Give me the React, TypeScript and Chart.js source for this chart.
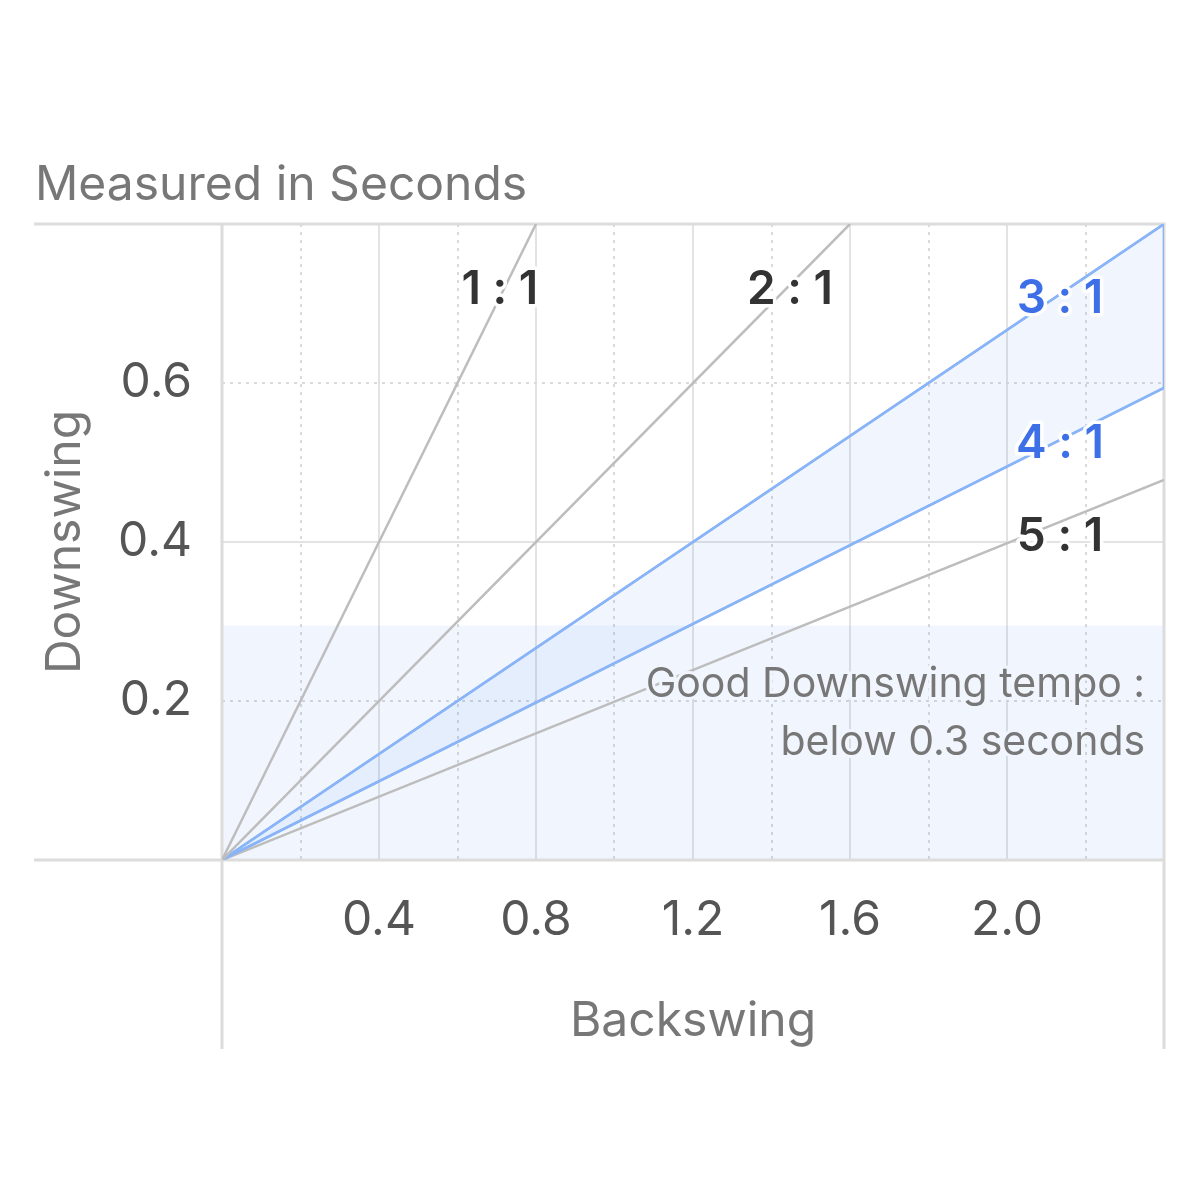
import { useEffect, useRef } from "react";
import { Chart, registerables, Plugin } from "chart.js";

// register everything chart.js has
Chart.register(...registerables);

const FONT = "Inter, 'Noto Sans', sans-serif";

// tempo ratios (backswing : downswing) and where each ratio line leaves the plot
const ratioNames = ["1 : 1", "2 : 1", "3 : 1", "4 : 1", "5 : 1"];
const backswingEnd = [0.8, 1.6, 2.4, 2.4, 2.4];
const downswingEnd = [0.8, 0.8, 0.8, 0.594, 0.478];
const highlighted = [false, false, true, true, false];

// label anchors in seconds (text centre on x, baseline on y)
const labelBackswing = [0.708, 1.447, 2.135, 2.135, 2.135];
const labelDownswing = [0.7, 0.7, 0.688, 0.506, 0.389];

// the "good downswing" band
const goodTempoLimit = 0.295;
const noteLines = ["Good Downswing tempo :", "below 0.3 seconds"];
const noteBackswing = 2.352;
const noteDownswing = [0.205, 0.132];

const xMax = 2.4;
const yMax = 0.8;

const tenths = (v: number) => Math.round(v * 10);
const isMajor = (v: number) => tenths(v) % 4 === 0;

// frame lines that run past the plot area, like a table
const framePlugin: Plugin = {
  id: "frame",
  beforeDatasetsDraw(chart) {
    const { ctx, chartArea: a } = chart;
    ctx.save();
    ctx.strokeStyle = "#dcdcdc";
    ctx.lineWidth = 3;
    ctx.beginPath();
    ctx.moveTo(34, a.top);
    ctx.lineTo(a.right + 1.5, a.top);
    ctx.moveTo(34, a.bottom);
    ctx.lineTo(a.right + 1.5, a.bottom);
    ctx.moveTo(a.left, a.top);
    ctx.lineTo(a.left, 1049);
    ctx.moveTo(a.right, a.top);
    ctx.lineTo(a.right, 1049);
    ctx.stroke();
    ctx.restore();
  },
};

// ratio labels, the band note and the top caption
const textPlugin: Plugin = {
  id: "texts",
  afterDatasetsDraw(chart) {
    const { ctx } = chart;
    const x = chart.scales.x;
    const y = chart.scales.y;
    ctx.save();
    ctx.lineJoin = "round";
    ctx.textBaseline = "alphabetic";

    ctx.font = `600 46px ${FONT}`;
    ctx.textAlign = "center";
    ratioNames.forEach((name, i) => {
      const px = x.getPixelForValue(labelBackswing[i]);
      const py = y.getPixelForValue(labelDownswing[i]);
      ctx.strokeStyle = "#ffffff";
      ctx.lineWidth = 7;
      ctx.strokeText(name, px, py);
      ctx.fillStyle = highlighted[i] ? "#3d6fe6" : "#333333";
      ctx.fillText(name, px, py);
    });

    ctx.font = `41px ${FONT}`;
    ctx.textAlign = "right";
    noteLines.forEach((line, i) => {
      const px = x.getPixelForValue(noteBackswing);
      const py = y.getPixelForValue(noteDownswing[i]);
      ctx.strokeStyle = "#f1f5fe";
      ctx.lineWidth = 6;
      ctx.strokeText(line, px, py);
      ctx.fillStyle = "#777777";
      ctx.fillText(line, px, py);
    });

    ctx.font = `48px ${FONT}`;
    ctx.textAlign = "left";
    ctx.fillStyle = "#777777";
    ctx.fillText("Measured in Seconds", 35, 200);
    ctx.restore();
  },
};

export default function App() {
  const chartRef = useRef<HTMLCanvasElement | null>(null);

  useEffect(() => {
    document.body.style.margin = "0";
    const canvas = chartRef.current;
    if (!canvas) return;

    const ratioSets = ratioNames.map((name, i) => ({
      label: name,
      data: [
        { x: 0, y: 0 },
        { x: backswingEnd[i], y: downswingEnd[i] },
      ],
      borderColor: highlighted[i] ? "#8ab4f8" : "#bdbdbd",
      borderWidth: 2.5,
      pointRadius: 0,
      fill: false,
    }));

    // zone between 3:1 and 4:1, closed at the right edge
    const zone = {
      label: "3:1 - 4:1",
      data: [
        { x: 0, y: 0 },
        { x: backswingEnd[2], y: downswingEnd[2] },
        { x: backswingEnd[3], y: downswingEnd[3] },
        { x: 0, y: 0 },
      ],
      borderColor: "#8ab4f8",
      borderWidth: 2.5,
      backgroundColor: "rgba(66,133,244,0.075)",
      pointRadius: 0,
      fill: "shape",
    };

    const band = {
      label: "good tempo",
      data: [
        { x: 0, y: goodTempoLimit },
        { x: xMax, y: goodTempoLimit },
      ],
      borderWidth: 0,
      borderColor: "rgba(0,0,0,0)",
      backgroundColor: "rgba(66,133,244,0.075)",
      pointRadius: 0,
      fill: "origin",
    };

    const chart = new Chart(canvas, {
      type: "line",
      data: { datasets: [...ratioSets, zone, band] as any },
      options: {
        animation: false,
        responsive: false,
        devicePixelRatio: 1,
        layout: { padding: { top: 224, right: 36, left: 0, bottom: 0 } },
        plugins: {
          legend: { display: false },
          tooltip: { enabled: false },
          filler: { drawTime: "beforeDatasetsDraw" },
        } as any,
        scales: {
          x: {
            type: "linear",
            min: 0,
            max: xMax,
            afterFit: (s: any) => {
              s.height = 340;
            },
            ticks: {
              stepSize: 0.2,
              autoSkip: false,
              maxRotation: 0,
              padding: 32,
              color: "#555555",
              font: { family: FONT, size: 48 },
              callback: (v: any) => {
                const t = tenths(Number(v));
                return t % 4 === 0 && t > 0 && t < 24 ? (t / 10).toFixed(1) : "";
              },
            },
            grid: {
              drawTicks: false,
              lineWidth: 2,
              color: (c: any) => (isMajor(c.tick.value) ? "#e3e3e3" : "#dadada"),
            },
            border: {
              display: false,
              dash: (c: any) => (c.tick && !isMajor(c.tick.value) ? [3, 5] : []),
            },
            title: {
              display: true,
              text: "Backswing",
              color: "#777777",
              font: { family: FONT, size: 48 },
              padding: { top: 0, bottom: 150 },
            },
          },
          y: {
            type: "linear",
            min: 0,
            max: yMax,
            afterFit: (s: any) => {
              s.width = 222;
            },
            ticks: {
              stepSize: 0.2,
              autoSkip: false,
              padding: 30,
              color: "#555555",
              font: { family: FONT, size: 48 },
              callback: (v: any) => {
                const t = tenths(Number(v));
                return t > 0 && t < 8 ? (t / 10).toFixed(1) : "";
              },
            },
            grid: {
              drawTicks: false,
              lineWidth: 2,
              color: (c: any) => (isMajor(c.tick.value) ? "#e3e3e3" : "#dadada"),
            },
            border: {
              display: false,
              dash: (c: any) => (c.tick && !isMajor(c.tick.value) ? [3, 5] : []),
            },
            title: {
              display: true,
              text: "Downswing",
              color: "#777777",
              font: { family: FONT, size: 48 },
              padding: { top: 37, bottom: 0 },
            },
          },
        },
      } as any,
      plugins: [framePlugin, textPlugin],
    });

    return () => {
      chart.destroy();
    };
  }, []);

  return (
    <div style={{ width: 1200, height: 1200 }}>
      <canvas ref={chartRef} width={1200} height={1200} />
    </div>
  );
}
